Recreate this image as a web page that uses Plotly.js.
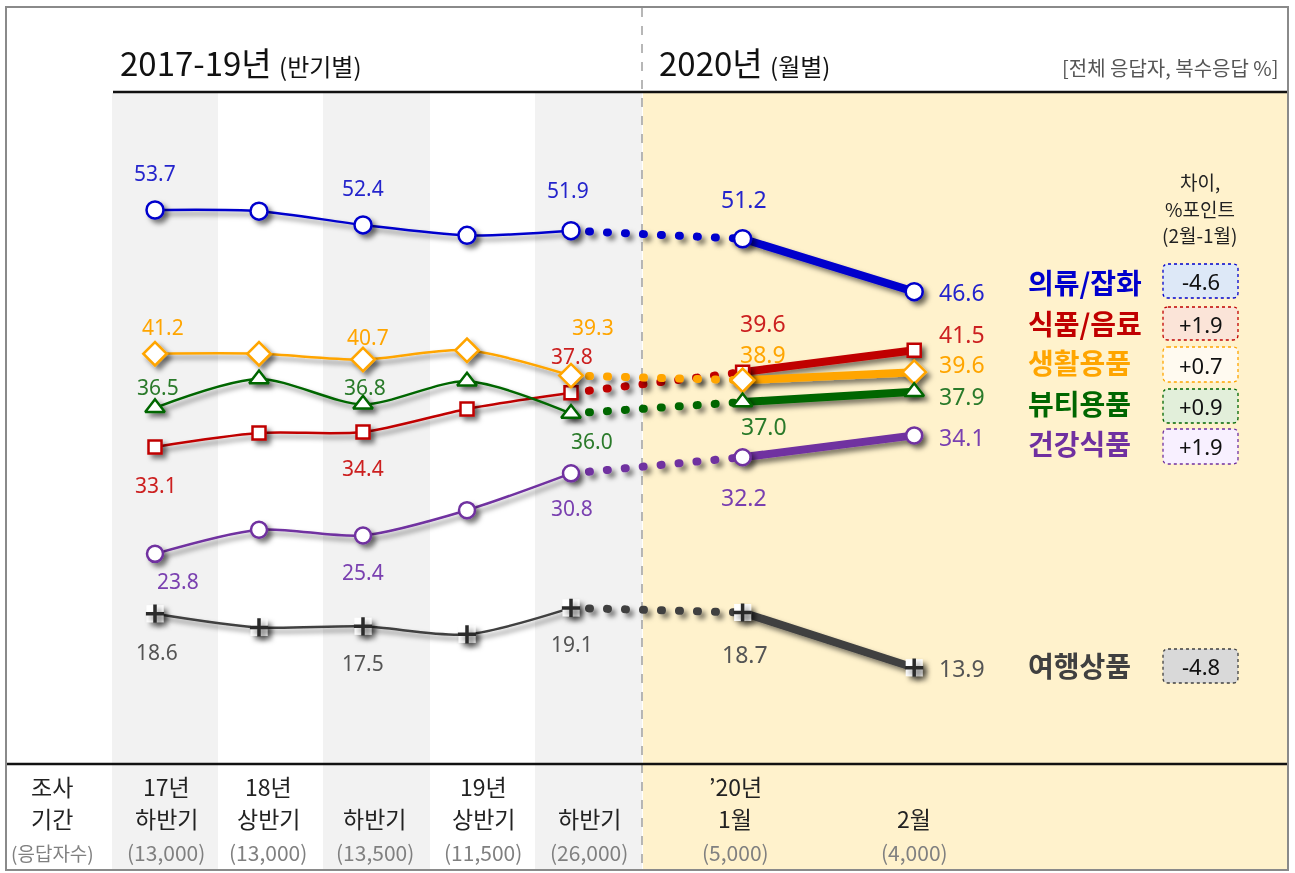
<!DOCTYPE html>
<html><head><meta charset="utf-8">
<script src="https://cdn.plot.ly/plotly-3.0.1.min.js"></script>
<style>
html,body{margin:0;padding:0;background:#fff;}
#chart{width:1295px;height:873px;}
</style>
</head><body><div id="chart"></div>
<script>
// ---------- data ----------
const periods = ['17년 하반기','18년 상반기','18년 하반기','19년 상반기','19년 하반기','20년 1월','20년 2월'];
const xPos = [0, 1, 2, 3, 4, 5.65, 7.3];
const categories = ['의류/잡화','식품/음료','생활용품','뷰티용품','건강식품','여행상품'];
const clothing  = [53.7, 53.6, 52.4, 51.5, 51.9, 51.2, 46.6];
const food      = [33.1, 34.3, 34.4, 36.4, 37.8, 39.6, 41.5];
const household = [41.2, 41.2, 40.7, 41.5, 39.3, 38.9, 39.6];
const beauty    = [36.5, 39.0, 36.8, 38.8, 36.0, 37.0, 37.9];
const health    = [23.8, 25.9, 25.4, 27.6, 30.8, 32.2, 34.1];
const travel    = [18.6, 17.4, 17.5, 16.8, 19.1, 18.7, 13.9];
const tickLine1 = ['17년','18년','','19년','','’20년',''];
const tickLine2 = ['하반기','상반기','하반기','상반기','하반기','1월','2월'];
const respondents = ['(13,000)','(13,000)','(13,500)','(11,500)','(26,000)','(5,000)','(4,000)'];
const labelIdx = [0, 2, 4, 5, 6];

// ---------- styling ----------
const W = 1295, H = 873;
const px = x => x / W, py = y => 1 - y / H;
const FONT = '"Noto Sans", "Noto Sans CJK KR", sans-serif';
const KFONT = '"Noto Sans CJK KR", "Noto Sans", sans-serif';

const series = [
  {name:categories[0], v:clothing, color:'#0000cc', text:'#2424cc', sym:'circle', size:17,
   off:[[0,-37],[0,-37],[-3,-41],[1,-40],[24,0]], catY:282, box:[264,298], fill:'#dde8f7'},
  {name:categories[1], v:food, color:'#c00000', text:'#cc2020', sym:'square', size:13,
   off:[[1,38],[0,36],[1,-37],[20,-49],[24,-16]], catY:323, box:[307,340], fill:'#fbe4d8'},
  {name:categories[2], v:household, color:'#ffa500', text:'#ffa500', sym:'diamond', size:18,
   off:[[8,-27],[5,-23],[22,-49],[20,-26],[24,-8]], catY:362, box:[347,382], fill:'#fffaf0'},
  {name:categories[3], v:beauty, color:'#006600', text:'#2a7a2a', sym:'triangle-up', size:17,
   off:[[3,-21],[2,-17],[21,27],[21,24],[24,4]], catY:403, box:[389,423], fill:'#e2efda'},
  {name:categories[4], v:health, color:'#7030a0', text:'#7a40b0', sym:'circle', size:16,
   off:[[23,27],[0,37],[1,35],[1,40],[24,2]], catY:443, box:[429,464], fill:'#f8f0ff'},
  {name:categories[5], v:travel, color:'#404040', text:'#555555', sym:'square', size:15,
   off:[[2,38],[0,37],[1,36],[2,41],[24,0]], catY:665, box:[649,683], fill:'#d9d9d9'}
];

const traces = [];
const annotations = [];
series.forEach(s => {
  traces.push({x:xPos.slice(0,5), y:s.v.slice(0,5), mode:'lines', hoverinfo:'skip',
    line:{color:s.color, width:2.5, shape:'spline', smoothing:0.8}});
  traces.push({x:xPos.slice(4,6), y:s.v.slice(4,6), mode:'lines', hoverinfo:'skip',
    line:{color:s.color, width:8, dash:'1px,17px'}});
  traces.push({x:xPos.slice(5,7), y:s.v.slice(5,7), mode:'lines', hoverinfo:'skip',
    line:{color:s.color, width:8}});
});
series.forEach(s => {
  if (s.name === '여행상품') {
    traces.push({x:xPos, y:s.v, mode:'markers', hoverinfo:'skip',
      marker:{symbol:'square', size:17, color:'#ffffff', line:{width:0}}});
    traces.push({x:xPos, y:s.v, mode:'markers', hoverinfo:'skip',
      marker:{symbol:'cross-thin-open', size:13, color:'#2a2a2a', line:{color:'#2a2a2a', width:3.5}}});
  } else {
    traces.push({x:xPos, y:s.v, mode:'markers', hoverinfo:'skip',
      marker:{symbol:s.sym, size:s.size, color:'#ffffff', line:{color:s.color, width:2.5}}});
  }
  labelIdx.forEach((i, k) => {
    const last = i === 6, big = i >= 5;
    annotations.push({xref:'x', yref:'y', x:xPos[i], y:s.v[i], text:s.v[i].toFixed(1),
      showarrow:false, xanchor:last ? 'left' : 'center', yanchor:'middle',
      xshift:s.off[k][0], yshift:-s.off[k][1], borderpad:0,
      font:{family:FONT, size:last ? 23 : (big ? 23 : 21), color:s.text}});
  });
  // category label & difference box (difference = 2월 - 1월)
  const d = s.v[6] - s.v[5];
  const dTxt = (d >= 0 ? '+' : '-') + Math.abs(d).toFixed(1);
  annotations.push({xref:'paper', yref:'paper', x:px(1026), y:py(s.catY), text:'<b>' + s.name + '</b>',
    showarrow:false, xanchor:'left', yanchor:'middle',
    font:{family:KFONT, size:28, color:s.name === '여행상품' ? '#404040' : s.color}});
  annotations.push({xref:'paper', yref:'paper', x:px(1200.5), y:py((s.box[0] + s.box[1]) / 2), text:dTxt,
    showarrow:false, xanchor:'center', yanchor:'middle', font:{family:FONT, size:22, color:'#111'}});
});

function roundRect(x0, y0, x1, y1, r) {
  const X = v => px(v), Y = v => py(v);
  return `M${X(x0 + r)},${Y(y0)} L${X(x1 - r)},${Y(y0)} Q${X(x1)},${Y(y0)} ${X(x1)},${Y(y0 + r)} ` +
    `L${X(x1)},${Y(y1 - r)} Q${X(x1)},${Y(y1)} ${X(x1 - r)},${Y(y1)} L${X(x0 + r)},${Y(y1)} ` +
    `Q${X(x0)},${Y(y1)} ${X(x0)},${Y(y1 - r)} L${X(x0)},${Y(y0 + r)} Q${X(x0)},${Y(y0)} ${X(x0 + r)},${Y(y0)} Z`;
}

const shapes = [];
const rectP = (x0, y0, x1, y1, fill) => ({type:'rect', xref:'paper', yref:'paper', layer:'below',
  x0:px(x0), x1:px(x1), y0:py(y1), y1:py(y0), fillcolor:fill, line:{width:0}});
shapes.push(rectP(643, 93, 1287, 870, '#fff2cc'));
[[112,218],[323,430],[535,642]].forEach(b => shapes.push(rectP(b[0], 93, b[1], 870, '#f2f2f2')));
shapes.push({type:'line', xref:'paper', yref:'paper', layer:'below', x0:px(642), x1:px(642), y0:py(8), y1:py(870),
  line:{color:'#a0a0a0', width:1.5, dash:'dash'}});
shapes.push({type:'line', xref:'paper', yref:'paper', x0:px(113), x1:px(1287), y0:py(92), y1:py(92),
  line:{color:'#111', width:2.5}});
shapes.push({type:'line', xref:'paper', yref:'paper', x0:px(7), x1:px(1287), y0:py(764), y1:py(764),
  line:{color:'#111', width:2.5}});
shapes.push({type:'rect', xref:'paper', yref:'paper', x0:px(6), x1:px(1288), y0:py(870), y1:py(7),
  line:{color:'#8a8a8a', width:2}, fillcolor:'rgba(0,0,0,0)'});
series.forEach(s => {
  shapes.push({type:'path', xref:'paper', yref:'paper', path:roundRect(1163, s.box[0], 1238, s.box[1], 5),
    fillcolor:s.fill, line:{color:s.color, width:1.3, dash:'dot'}, layer:'below'});
});

// headers
const ann = (x, y, text, size, color, xanchor, fam) => annotations.push({xref:'paper', yref:'paper',
  x:px(x), y:py(y), text:text, showarrow:false, xanchor:xanchor || 'center', yanchor:'middle',
  font:{family:fam || KFONT, size:size, color:color}});
ann(118, 62, '2017-19년 <span style="font-size:24px">(반기별)</span>', 33, '#111', 'left');
ann(657, 62, '2020년 <span style="font-size:24px">(월별)</span>', 33, '#111', 'left');
ann(1281, 68, '[전체 응답자, 복수응답 %]', 20, '#555', 'right');
ann(1200, 181, '차이,', 19, '#222');
ann(1200, 208, '%포인트', 19, '#222');
ann(1200, 235, '(2월-1월)', 19, '#222');

// x tick labels
const tickX = [166, 268, 375, 483, 589, 735, 914];
ann(52, 786, '조사', 23, '#222');
ann(52, 818, '기간', 23, '#222');
ann(52, 852, '(응답자수)', 19, '#808080');
periods.forEach((p, i) => {
  if (tickLine1[i]) ann(tickX[i], 786, tickLine1[i], 23, '#222');
  ann(tickX[i], 818, tickLine2[i], 23, '#222');
  ann(tickX[i], 852, respondents[i], 21, '#808080');
});

const layout = {
  width:W, height:H, margin:{l:0, r:0, t:0, b:0},
  paper_bgcolor:'#ffffff', plot_bgcolor:'rgba(0,0,0,0)', showlegend:false,
  xaxis:{range:[-155/104, (W - 155)/104], visible:false, fixedrange:true},
  yaxis:{range:[53.7 - (H - 210)/11.5, 53.7 + 210/11.5], visible:false, fixedrange:true},
  shapes:shapes, annotations:annotations
};
Plotly.newPlot('chart', traces, layout, {displayModeBar:false, staticPlot:true}).then(() => {
  const svg = document.querySelector('#chart svg.main-svg');
  const NS = 'http://www.w3.org/2000/svg';
  let defs = svg.querySelector('defs');
  if (!defs) { defs = document.createElementNS(NS, 'defs'); svg.insertBefore(defs, svg.firstChild); }
  const f = document.createElementNS(NS, 'filter');
  f.setAttribute('id', 'dshadow');
  f.setAttribute('filterUnits', 'userSpaceOnUse');
  f.setAttribute('x', '0'); f.setAttribute('y', '0');
  f.setAttribute('width', String(W)); f.setAttribute('height', String(H));
  const ds = document.createElementNS(NS, 'feDropShadow');
  ds.setAttribute('dx', '4'); ds.setAttribute('dy', '4'); ds.setAttribute('stdDeviation', '2.5');
  ds.setAttribute('flood-color', '#000'); ds.setAttribute('flood-opacity', '0.5');
  f.appendChild(ds); defs.appendChild(f);
  document.querySelectorAll('.scatterlayer .js-line').forEach(p => p.style.strokeLinecap = 'round');
  document.querySelectorAll('.scatterlayer .trace').forEach(g => g.setAttribute('filter', 'url(#dshadow)'));
});
</script>
</body></html>
